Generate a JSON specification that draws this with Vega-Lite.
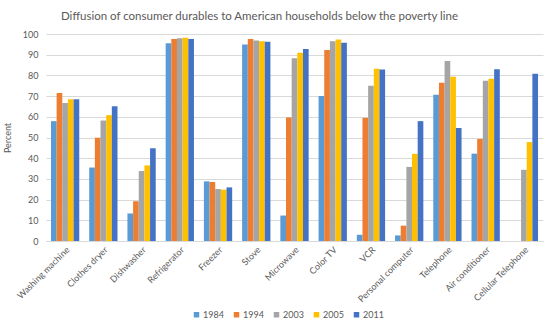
{
  "$schema": "https://vega.github.io/schema/vega-lite/v6.json",
  "autosize": "none",
  "width": 497,
  "height": 207,
  "padding": {"left": 46, "top": 34, "right": 13, "bottom": 90},
  "background": "white",
  "title": {
    "text": "Diffusion of consumer durables to American households below the poverty line",
    "font": "Lato",
    "fontSize": 11.5,
    "fontWeight": "normal",
    "color": "#595959",
    "anchor": "middle",
    "dx": -35,
    "offset": 8
  },
  "data": {
    "values": [
      {"item": "Washing machine", "year": "1984", "value": 57.9},
      {"item": "Washing machine", "year": "1994", "value": 71.5},
      {"item": "Washing machine", "year": "2003", "value": 66.7},
      {"item": "Washing machine", "year": "2005", "value": 68.5},
      {"item": "Washing machine", "year": "2011", "value": 68.5},
      {"item": "Clothes dryer", "year": "1984", "value": 35.5},
      {"item": "Clothes dryer", "year": "1994", "value": 49.9},
      {"item": "Clothes dryer", "year": "2003", "value": 58.2},
      {"item": "Clothes dryer", "year": "2005", "value": 60.8},
      {"item": "Clothes dryer", "year": "2011", "value": 65.1},
      {"item": "Dishwasher", "year": "1984", "value": 13.3},
      {"item": "Dishwasher", "year": "1994", "value": 19.2},
      {"item": "Dishwasher", "year": "2003", "value": 33.8},
      {"item": "Dishwasher", "year": "2005", "value": 36.5},
      {"item": "Dishwasher", "year": "2011", "value": 44.8},
      {"item": "Refrigerator", "year": "1984", "value": 95.5},
      {"item": "Refrigerator", "year": "1994", "value": 97.6},
      {"item": "Refrigerator", "year": "2003", "value": 97.9},
      {"item": "Refrigerator", "year": "2005", "value": 98.2},
      {"item": "Refrigerator", "year": "2011", "value": 97.6},
      {"item": "Freezer", "year": "1984", "value": 28.8},
      {"item": "Freezer", "year": "1994", "value": 28.5},
      {"item": "Freezer", "year": "2003", "value": 25.1},
      {"item": "Freezer", "year": "2005", "value": 24.8},
      {"item": "Freezer", "year": "2011", "value": 25.9},
      {"item": "Stove", "year": "1984", "value": 94.9},
      {"item": "Stove", "year": "1994", "value": 97.6},
      {"item": "Stove", "year": "2003", "value": 96.8},
      {"item": "Stove", "year": "2005", "value": 96.5},
      {"item": "Stove", "year": "2011", "value": 96.2},
      {"item": "Microwave", "year": "1984", "value": 12.3},
      {"item": "Microwave", "year": "1994", "value": 59.7},
      {"item": "Microwave", "year": "2003", "value": 88.3},
      {"item": "Microwave", "year": "2005", "value": 90.9},
      {"item": "Microwave", "year": "2011", "value": 92.8},
      {"item": "Color TV", "year": "1984", "value": 70.1},
      {"item": "Color TV", "year": "1994", "value": 92.3},
      {"item": "Color TV", "year": "2003", "value": 96.5},
      {"item": "Color TV", "year": "2005", "value": 97.3},
      {"item": "Color TV", "year": "2011", "value": 95.8},
      {"item": "VCR", "year": "1984", "value": 3.0},
      {"item": "VCR", "year": "1994", "value": 59.5},
      {"item": "VCR", "year": "2003", "value": 75.0},
      {"item": "VCR", "year": "2005", "value": 83.2},
      {"item": "VCR", "year": "2011", "value": 82.9},
      {"item": "Personal computer", "year": "1984", "value": 2.7},
      {"item": "Personal computer", "year": "1994", "value": 7.4},
      {"item": "Personal computer", "year": "2003", "value": 35.8},
      {"item": "Personal computer", "year": "2005", "value": 42.1},
      {"item": "Personal computer", "year": "2011", "value": 57.9},
      {"item": "Telephone", "year": "1984", "value": 70.6},
      {"item": "Telephone", "year": "1994", "value": 76.5},
      {"item": "Telephone", "year": "2003", "value": 87.0},
      {"item": "Telephone", "year": "2005", "value": 79.4},
      {"item": "Telephone", "year": "2011", "value": 54.6},
      {"item": "Air conditioner", "year": "1984", "value": 42.2},
      {"item": "Air conditioner", "year": "1994", "value": 49.3},
      {"item": "Air conditioner", "year": "2003", "value": 77.4},
      {"item": "Air conditioner", "year": "2005", "value": 78.4},
      {"item": "Air conditioner", "year": "2011", "value": 83.0},
      {"item": "Cellular Telephone", "year": "2003", "value": 34.4},
      {"item": "Cellular Telephone", "year": "2005", "value": 47.8},
      {"item": "Cellular Telephone", "year": "2011", "value": 80.8}
    ]
  },
  "mark": {"type": "bar"},
  "encoding": {
    "x": {
      "field": "item",
      "type": "nominal",
      "sort": null,
      "scale": {"paddingInner": 0.26, "paddingOuter": 0.13},
      "axis": {
        "title": null,
        "labelAngle": -45,
        "labelAlign": "right",
        "labelBaseline": "top",
        "labelFont": "Lato",
        "labelFontSize": 9,
        "labelColor": "#595959",
        "labelPadding": 4,
        "ticks": false,
        "domainColor": "#D9D9D9"
      }
    },
    "xOffset": {"field": "year", "type": "nominal"},
    "y": {
      "field": "value",
      "type": "quantitative",
      "scale": {"domain": [0, 100], "nice": false},
      "axis": {
        "title": "Percent",
        "titleFont": "Lato",
        "titleFontSize": 9,
        "titleFontWeight": "normal",
        "titleColor": "#595959",
        "titlePadding": 10,
        "values": [0, 10, 20, 30, 40, 50, 60, 70, 80, 90, 100],
        "labelFont": "Lato",
        "labelFontSize": 9,
        "labelColor": "#595959",
        "labelPadding": 8,
        "ticks": false,
        "domain": false,
        "gridColor": "#D9D9D9"
      }
    },
    "color": {
      "field": "year",
      "type": "nominal",
      "scale": {
        "domain": ["1984", "1994", "2003", "2005", "2011"],
        "range": ["#5B9BD5", "#ED7D31", "#A5A5A5", "#FFC000", "#4472C4"]
      },
      "legend": {
        "title": null,
        "orient": "none",
        "direction": "horizontal",
        "legendX": 146,
        "legendY": 276,
        "symbolType": "square",
        "symbolSize": 30,
        "symbolStrokeWidth": 0,
        "labelFont": "Lato",
        "labelFontSize": 9,
        "labelColor": "#595959",
        "labelOffset": 2,
        "columnPadding": 8
      }
    }
  },
  "config": {"view": {"stroke": null}}
}
